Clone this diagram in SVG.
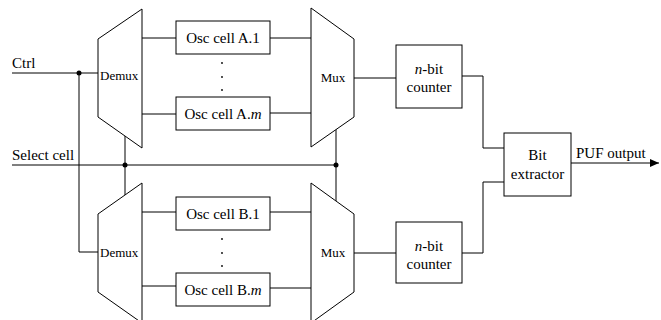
<svg xmlns="http://www.w3.org/2000/svg" width="661" height="320" viewBox="0 0 661 320">
<style>
.s{fill:none;stroke:#000;stroke-width:1}
.b{fill:#fff;stroke:#000;stroke-width:1}
text{font-family:'Liberation Serif','DejaVu Serif',serif;font-size:15px;fill:#000}
.sm{font-size:13px}
.m{text-anchor:middle}
.i{font-style:italic}
</style>
<defs>
<marker id="arr" markerWidth="9" markerHeight="8" refX="9" refY="4" orient="auto" markerUnits="userSpaceOnUse">
<path d="M0,0 L9,4 L0,8 Z" fill="#000"/>
</marker>
</defs>
<rect width="661" height="320" fill="#fff"/>
<g id="connectors">
<path class="s" d="M12,73 H98"/>
<path class="s" d="M79,73 V252 H98"/>
<path class="s" d="M12,165 H336"/>
<path class="s" d="M125,136 V195"/>
<path class="s" d="M336,129 V201"/>
<path class="s" d="M142,38 H176 M142,114 H176 M270,38 H311 M270,113 H311"/>
<path class="s" d="M142,212 H176 M142,286 H176 M270,212 H311 M270,288 H311"/>
<path class="s" d="M354,78 H396 M354,253 H396"/>
<path class="s" d="M462,76 H483 V148 H504"/>
<path class="s" d="M462,253 H483 V182 H504"/>
<path class="s" d="M571,163 H659" marker-end="url(#arr)"/>
<circle cx="79" cy="73" r="2.5" fill="#000"/>
<circle cx="125" cy="165" r="2.5" fill="#000"/>
<circle cx="336" cy="165" r="2.5" fill="#000"/>
<text x="12" y="68" font-family="Liberation Serif, serif">Ctrl</text>
<text x="12" y="160" font-family="Liberation Serif, serif">Select cell</text>
<text x="576" y="158" font-family="Liberation Serif, serif">PUF output</text>
</g>
<g id="demuxA">
<path class="b" d="M98,39 L142,9 V148 L98,117 Z"/>
<text class="sm" x="100" y="80">Demux</text>
</g>
<g id="demuxB">
<path class="b" d="M98,214 L142,183 V323 L98,292 Z"/>
<text class="sm" x="100" y="257">Demux</text>
</g>
<g id="oscA1">
<rect class="b" x="176" y="21" width="94" height="33"/>
<text class="m" x="223" y="43">Osc cell A.1</text>
</g>
<g id="dotsA">
<circle cx="222" cy="63" r="0.9" fill="#000"/>
<circle cx="222" cy="77" r="0.9" fill="#000"/>
<circle cx="222" cy="90" r="0.9" fill="#000"/>
</g>
<g id="oscAm">
<rect class="b" x="176" y="97" width="94" height="33"/>
<text class="m" x="223" y="119">Osc cell A.<tspan class="i">m</tspan></text>
</g>
<g id="oscB1">
<rect class="b" x="176" y="197" width="94" height="33"/>
<text class="m" x="223" y="219">Osc cell B.1</text>
</g>
<g id="dotsB">
<circle cx="222" cy="239" r="0.9" fill="#000"/>
<circle cx="222" cy="253" r="0.9" fill="#000"/>
<circle cx="222" cy="266" r="0.9" fill="#000"/>
</g>
<g id="oscBm">
<rect class="b" x="176" y="273" width="94" height="33"/>
<text class="m" x="223" y="295">Osc cell B.<tspan class="i">m</tspan></text>
</g>
<g id="muxA">
<path class="b" d="M311,8 L354,39 V117 L311,147 Z"/>
<text class="sm m" x="333" y="82">Mux</text>
</g>
<g id="muxB">
<path class="b" d="M311,183 L354,214 V292 L311,323 Z"/>
<text class="sm m" x="333" y="257">Mux</text>
</g>
<g id="counterA">
<rect class="b" x="396" y="45" width="66" height="63"/>
<text class="m" x="429" y="74"><tspan class="i">n</tspan>-bit</text>
<text class="m" x="429" y="92">counter</text>
</g>
<g id="counterB">
<rect class="b" x="396" y="222" width="66" height="61"/>
<text class="m" x="429" y="251"><tspan class="i">n</tspan>-bit</text>
<text class="m" x="429" y="269">counter</text>
</g>
<g id="bitExtractor">
<rect class="b" x="504" y="133" width="67" height="63"/>
<text class="m" x="537.5" y="160">Bit</text>
<text class="m" x="537.5" y="179">extractor</text>
</g>
</svg>
